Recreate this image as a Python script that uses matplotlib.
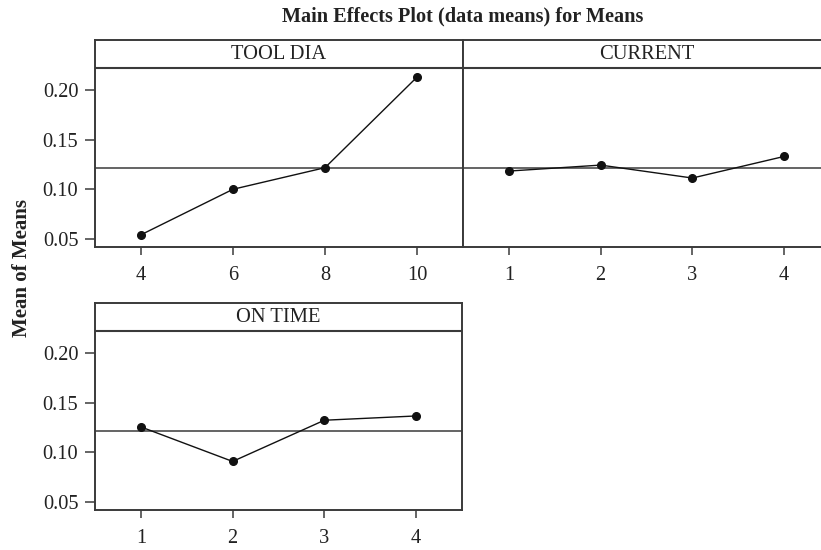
import matplotlib
matplotlib.use("Agg")
import matplotlib.pyplot as plt

plt.rcParams["font.family"] = ["Liberation Serif", "DejaVu Serif"]

# factor levels and the mean response at each level
tool_dia_levels = [4, 6, 8, 10]
tool_dia_means = [0.0543, 0.1000, 0.1217, 0.2127]

current_levels = [1, 2, 3, 4]
current_means = [0.1183, 0.1243, 0.1113, 0.1330]

on_time_levels = [1, 2, 3, 4]
on_time_means = [0.1255, 0.0908, 0.1322, 0.1365]

grand_mean = 0.1218
y_ticks = [0.05, 0.10, 0.15, 0.20]

INK = "#222222"
FRAME = "#3a3a3a"
W, H = 821, 550

fig = plt.figure(figsize=(W / 100, H / 100), dpi=100)


def px_axes(x0, y0, x1, y1):
    # axes from pixel box (top-left origin)
    return fig.add_axes([x0 / W, 1 - y1 / H, (x1 - x0) / W, (y1 - y0) / H])


def panel(ax, name, levels, means, show_y=True):
    idx = list(range(len(levels)))
    ax.plot(idx, means, "-o", color="#111111", lw=1.0, ms=5.5, zorder=3)
    ax.axhline(grand_mean, color=FRAME, lw=1.1, zorder=2)
    # strip header
    ax.axhline(0.222, color=FRAME, lw=1.5, zorder=2)
    ax.text(0.5, 0.2355, name, transform=ax.get_yaxis_transform(), ha="center",
            va="center", fontsize=14.8, color=INK)
    ax.set_xlim(-0.5, 3.5)
    ax.set_ylim(0.042, 0.250)
    ax.set_xticks(idx)
    ax.set_xticklabels([str(v) for v in levels])
    ax.set_yticks(y_ticks)
    if show_y:
        ax.set_yticklabels([f"{v:.2f}" for v in y_ticks])
    else:
        ax.tick_params(axis="y", left=False, labelleft=False)
    ax.tick_params(axis="x", direction="out", length=6, width=1.1, pad=8,
                   labelsize=14.7, colors=FRAME, labelcolor=INK)
    ax.tick_params(axis="y", direction="out", length=7, width=1.1, pad=5,
                   labelsize=14.7, colors=FRAME, labelcolor=INK)
    for s in ax.spines.values():
        s.set_color(FRAME)
        s.set_linewidth(1.4)


ax1 = px_axes(95, 40, 463, 247)
panel(ax1, "TOOL DIA", tool_dia_levels, tool_dia_means)

ax2 = px_axes(463, 40, 830, 247)
panel(ax2, "CURRENT", current_levels, current_means, show_y=False)

ax3 = px_axes(95, 303, 462, 510)
panel(ax3, "ON TIME", on_time_levels, on_time_means)

fig.text(463 / W, 1 - 16 / H, "Main Effects Plot (data means) for Means",
         ha="center", va="center", fontsize=14.6, fontweight="bold", color=INK)
fig.text(22 / W, 1 - 268 / H, "Mean of Means", rotation=90, ha="center",
         va="center", fontsize=15, fontweight="bold", color=INK)

fig.savefig("out.png", dpi=100)
